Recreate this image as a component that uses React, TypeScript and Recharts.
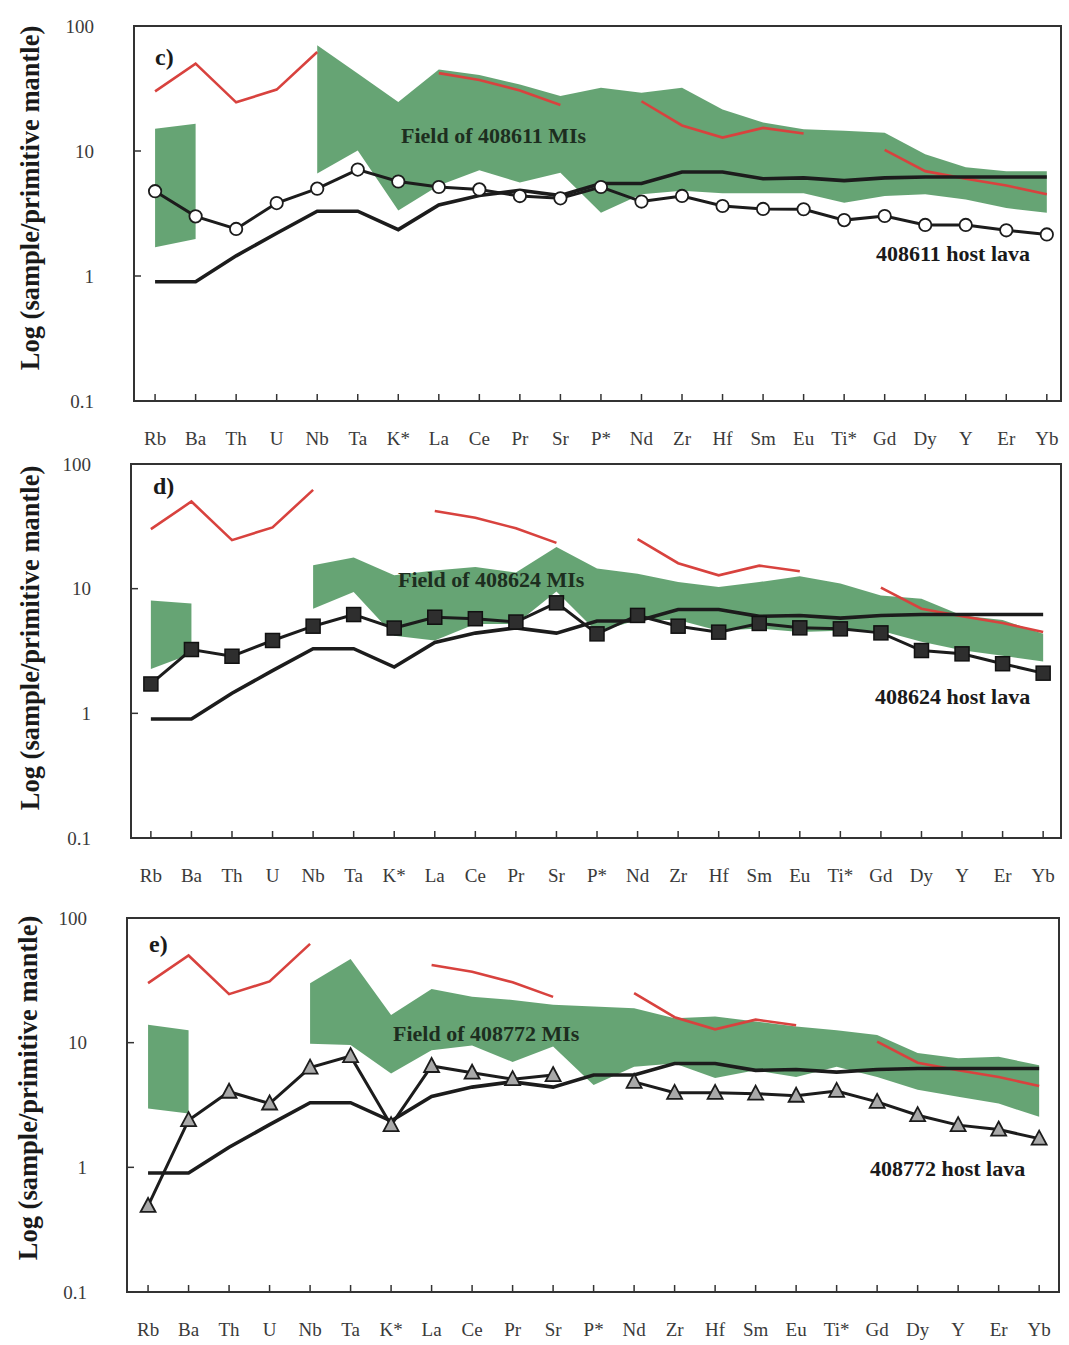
import React from 'react';
import { ComposedChart, Line, Area, XAxis, YAxis, ReferenceArea } from 'recharts';

const elements = ['Rb', 'Ba', 'Th', 'U', 'Nb', 'Ta', 'K*', 'La', 'Ce', 'Pr', 'Sr', 'P*', 'Nd', 'Zr', 'Hf', 'Sm', 'Eu', 'Ti*', 'Gd', 'Dy', 'Y', 'Er', 'Yb'];
const yTicks = [0.1, 1, 10, 100];

// red reference pattern (same in every panel)
const redPattern = [30, 50, 24.5, 31, 62, null, null, 42, 37, 30.5, 23.3, null, 25, 16, 12.8, 15.3, 13.8, null, 10.2, 6.9, 6.0, 5.3, 4.5];
// thick black reference line (same in every panel)
const blackPattern = [0.9, 0.9, 1.45, 2.2, 3.3, 3.3, 2.35, 3.7, 4.4, 4.85, 4.4, 5.5, 5.5, 6.8, 6.8, 6.0, 6.1, 5.8, 6.1, 6.2, 6.2, 6.2, 6.2];

// panel c) 408611
const host611 = [4.77, 3.0, 2.38, 3.83, 5.0, 7.1, 5.7, 5.15, 4.93, 4.36, 4.18, 5.15, 3.94, 4.37, 3.63, 3.44, 3.42, 2.8, 3.02, 2.56, 2.56, 2.32, 2.15];
const field611Low = [1.7, 1.98, null, null, 6.6, 10.1, 3.34, 5.3, 7.0, 5.6, 6.7, 3.2, 4.5, 4.8, 4.6, 4.6, 4.6, 3.86, 4.36, 4.5, 4.1, 3.5, 3.2];
const field611High = [15.1, 16.5, null, null, 70, 41.7, 24.7, 44.9, 40.5, 34, 27.5, 32, 29.3, 32, 21.5, 16.9, 14.9, 14.5, 14, 9.4, 7.4, 6.9, 6.9];

// panel d) 408624
const host624 = [1.72, 3.25, 2.87, 3.84, 5.0, 6.2, 4.83, 5.9, 5.74, 5.4, 7.7, 4.34, 6.1, 5.0, 4.48, 5.26, 4.85, 4.76, 4.42, 3.19, 3.0, 2.5, 2.1];
const field624Low = [2.27, 3.0, null, null, 6.9, 9.4, 4.2, 3.84, 5.2, 5.2, 9.5, 4.5, 5.6, 5.6, 4.6, 4.8, 4.5, 4.6, 4.6, 3.75, 3.2, 2.9, 2.6];
const field624High = [8.05, 7.6, null, null, 15.4, 17.8, 12.8, 14, 14.9, 13.5, 21.6, 14.5, 13.2, 11.3, 10.3, 11.3, 12.6, 11, 8.8, 8.3, 6.1, 5.6, 4.35];

// panel e) 408772
const host772 = [0.49, 2.39, 4.04, 3.25, 6.3, 7.8, 2.18, 6.5, 5.74, 5.1, 5.5, null, 4.85, 3.96, 3.96, 3.9, 3.75, 4.1, 3.35, 2.62, 2.18, 2.01, 1.7];
const field772Low = [2.96, 2.7, null, null, 9.8, 9.6, 5.66, 8.7, 9.5, 7.0, 9.3, 4.57, 6.4, 6.8, 5.2, 6.0, 5.3, 6.4, 5.3, 4.2, 3.68, 3.25, 2.54];
const field772High = [13.9, 12.6, null, null, 30, 46.8, 16.7, 26.9, 23.4, 22, 20.1, 19.5, 18.9, 15.7, 16.2, 14.8, 13.5, 12.6, 11.5, 8.26, 7.5, 7.7, 6.6];

const FONT = "'Liberation Serif', 'Times New Roman', serif";
const GREEN = '#5e9f6d';
const RED = '#d8423e';
const BLACK = '#1c1c1c';
const xTicks = elements.map((_, i) => i);

function buildData(host: (number | null)[], low: (number | null)[], high: (number | null)[]) {
  return elements.map((el, i) => ({
    idx: i,
    el,
    red: redPattern[i],
    ref: blackPattern[i],
    host: host[i],
    field: low[i] == null || high[i] == null ? null : [low[i], high[i]],
  }));
}

const XTick = (props: any) => {
  const { x, y, payload } = props;
  return (
    <g>
      <line x1={x} x2={x} y1={y} y2={y - 7} stroke="#333" strokeWidth={1.5} />
      <text x={x} y={y + 37} textAnchor="middle" dominantBaseline="central" fontSize={19} fontFamily={FONT} fill="#3a3a3a">
        {elements[payload.value]}
      </text>
    </g>
  );
};

const YTick = (props: any) => {
  const { x, y, payload } = props;
  const fmt = payload.value === 0.1 ? '0.1' : String(payload.value);
  return (
    <g>
      <line x1={x + 40} x2={x + 47} y1={y} y2={y} stroke="#333" strokeWidth={1.5} />
      <text x={x} y={y} textAnchor="end" dominantBaseline="central" fontSize={19} fontFamily={FONT} fill="#3a3a3a">
        {fmt}
      </text>
    </g>
  );
};

const makeDot = (kind: 'circle' | 'square' | 'triangle') => (props: any) => {
  const { cx, cy, index } = props;
  if (cx == null || cy == null || isNaN(cy)) return <g key={`d-${index}`} />;
  if (kind === 'circle') {
    return <circle key={`d-${index}`} cx={cx} cy={cy} r={6.2} fill="#ffffff" stroke="#1c1c1c" strokeWidth={1.8} />;
  }
  if (kind === 'square') {
    return <rect key={`d-${index}`} x={cx - 7} y={cy - 7} width={14} height={14} fill="#2e2e2e" stroke="#111" strokeWidth={1.5} />;
  }
  return (
    <path
      key={`d-${index}`}
      d={`M${cx},${cy - 8} L${cx + 7.5},${cy + 6} L${cx - 7.5},${cy + 6} Z`}
      fill="#a9a9a9"
      stroke="#1c1c1c"
      strokeWidth={1.8}
    />
  );
};

type PanelProps = {
  top: number;
  height: number;
  marginTop: number;
  marginRight: number;
  yAxisWidth: number;
  xAxisHeight: number;
  xDomain: [number, number];
  data: any[];
  marker: 'circle' | 'square' | 'triangle';
};

const Panel = (p: PanelProps) => (
  <div style={{ position: 'absolute', left: 0, top: p.top, width: 1069, height: p.height }}>
    <ComposedChart
      width={1069}
      height={p.height}
      data={p.data}
      margin={{ top: p.marginTop, right: p.marginRight, bottom: 0, left: 0 }}
    >
      <XAxis
        dataKey="idx"
        type="number"
        domain={p.xDomain}
        allowDataOverflow
        ticks={xTicks}
        height={p.xAxisHeight}
        axisLine={false}
        tickLine={false}
        tickSize={0}
        tickMargin={0}
        interval={0}
        tick={<XTick />}
      />
      <YAxis
        scale="log"
        domain={[0.1, 100]}
        ticks={yTicks}
        allowDataOverflow
        width={p.yAxisWidth}
        axisLine={false}
        tickLine={false}
        tickSize={0}
        tickMargin={40}
        interval={0}
        tick={<YTick />}
      />
      <Area
        dataKey="field"
        type="linear"
        stroke="none"
        fill={GREEN}
        fillOpacity={0.95}
        connectNulls={false}
        isAnimationActive={false}
        activeDot={false}
        dot={false}
      />
      <Line dataKey="red" type="linear" stroke={RED} strokeWidth={2.6} dot={false} activeDot={false} connectNulls={false} isAnimationActive={false} />
      <Line dataKey="ref" type="linear" stroke={BLACK} strokeWidth={3.6} dot={false} activeDot={false} isAnimationActive={false} />
      <Line
        dataKey="host"
        type="linear"
        stroke={BLACK}
        strokeWidth={3}
        dot={makeDot(p.marker)}
        activeDot={false}
        connectNulls={false}
        isAnimationActive={false}
      />
      <ReferenceArea
        x1={p.xDomain[0]}
        x2={p.xDomain[1]}
        y1={0.1}
        y2={100}
        fill="none"
        fillOpacity={0}
        stroke="#333"
        strokeWidth={2}
        strokeOpacity={1}
        ifOverflow="visible"
      />
    </ComposedChart>
  </div>
);

const dataC = buildData(host611, field611Low, field611High);
const dataD = buildData(host624, field624Low, field624High);
const dataE = buildData(host772, field772Low, field772High);

const AXIS_LABEL = 'Log (sample/primitive mantle)';

export default function App() {
  return (
    <div style={{ position: 'absolute', left: 0, top: 0, width: 1069, height: 1345, background: '#fff' }}>
      <Panel top={0} height={450} marginTop={26} marginRight={8} yAxisWidth={134} xAxisHeight={49} xDomain={[-0.52, 22.35]} data={dataC} marker="circle" />
      <Panel top={450} height={450} marginTop={14} marginRight={8} yAxisWidth={131} xAxisHeight={62} xDomain={[-0.49, 22.44]} data={dataD} marker="square" />
      <Panel top={900} height={445} marginTop={18} marginRight={10} yAxisWidth={127} xAxisHeight={53} xDomain={[-0.52, 22.49]} data={dataE} marker="triangle" />
      <svg width={1069} height={1345} style={{ position: 'absolute', left: 0, top: 0, pointerEvents: 'none' }}>
        <g fontFamily={FONT} fontWeight="bold" fill="#1a1a1a">
          <text transform="translate(30,198) rotate(-90)" textAnchor="middle" dominantBaseline="central" fontSize={26.5}>{AXIS_LABEL}</text>
          <text transform="translate(30,638) rotate(-90)" textAnchor="middle" dominantBaseline="central" fontSize={26.5}>{AXIS_LABEL}</text>
          <text transform="translate(28,1088) rotate(-90)" textAnchor="middle" dominantBaseline="central" fontSize={26.5}>{AXIS_LABEL}</text>

          <text x={155} y={57} dominantBaseline="central" fontSize={24}>c)</text>
          <text x={153} y={486} dominantBaseline="central" fontSize={24}>d)</text>
          <text x={149} y={944} dominantBaseline="central" fontSize={24}>e)</text>

          <text x={401} y={135} dominantBaseline="central" fontSize={22} fill="#1d2e1f">Field of 408611 MIs</text>
          <text x={398} y={579} dominantBaseline="central" fontSize={22} fill="#1d2e1f">Field of 408624 MIs</text>
          <text x={393} y={1033} dominantBaseline="central" fontSize={22} fill="#1d2e1f">Field of 408772 MIs</text>

          <text x={876} y={253} dominantBaseline="central" fontSize={22}>408611 host lava</text>
          <text x={875} y={696} dominantBaseline="central" fontSize={22}>408624 host lava</text>
          <text x={870} y={1168} dominantBaseline="central" fontSize={22}>408772 host lava</text>
        </g>
      </svg>
    </div>
  );
}
